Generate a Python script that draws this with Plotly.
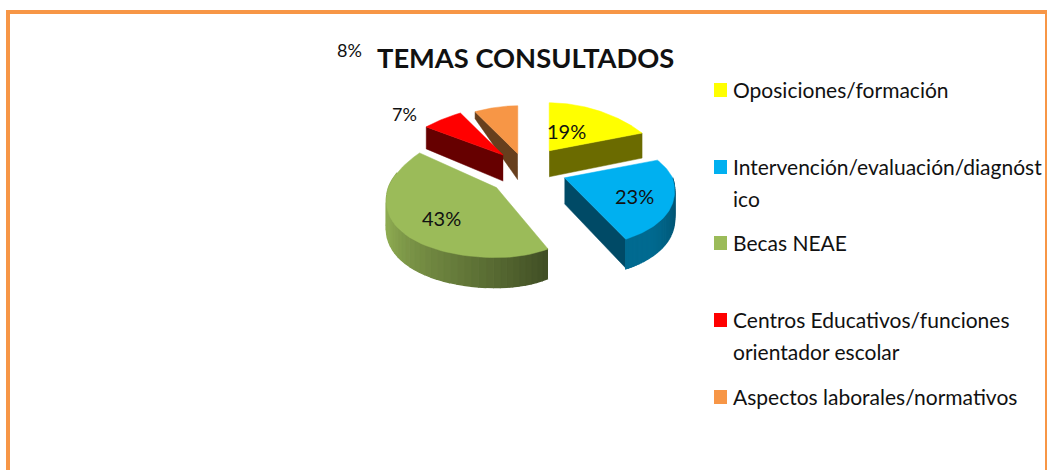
import numpy as np
import plotly.graph_objects as go

categories = ["Oposiciones/formación", "Intervención/evaluación/diagnóstico", "Becas NEAE",
              "Centros Educativos/funciones orientador escolar", "Aspectos laborales/normativos"]
values = [19, 23, 43, 7, 8]
pct_labels = ["19%", "23%", "43%", "7%", "8%"]
legend_lines = [["Oposiciones/formación"], ["Intervención/evaluación/diagnóst", "ico"], ["Becas NEAE"],
                ["Centros Educativos/funciones", "orientador escolar"], ["Aspectos laborales/normativos"]]
title = "TEMAS CONSULTADOS"

# styles
top_colors = ["#FFFF00", "#00B0F0", "#9BBB59", "#FF0000", "#F79646"]
cut_colors = ["#6B6B00", "#004A66", "#414F25", "#660000", "#673F1D"]
arc_light = ["#6B6B00", "#006A90", "#8EAB52", "#660000", "#673F1D"]
explode = [43, 42, 38, 33, 29]
cut_depth = [25, 29, 29, 22, 7]
ry_back = [48, 48, 59, 48, 48]
right_scale = [1, 1, 0.84, 1, 1]
CX, CY = 525, 165
R, S, RY_FRONT = 108, 22, 70
BORDER = "#F79646"
TEXT = "#111111"


def hex2rgb(h):
    return np.array([int(h[i:i + 2], 16) for i in (1, 3, 5)], float)


def mix(a, b, t):
    c = hex2rgb(a) * (1 - t) + hex2rgb(b) * t
    return "rgb(%d,%d,%d)" % tuple(c)


def rim(i, tip, theta):
    dx = np.sin(theta) * (R + S * -np.cos(theta))
    dx = dx * np.where(np.sin(theta) > 0, right_scale[i], 1)
    dy = -np.cos(theta) * np.where(np.cos(theta) > 0, ry_back[i], RY_FRONT)
    return tip[0] + dx, tip[1] + dy


def depth(theta):
    return 27 + 3 * -np.cos(theta)


total = sum(values)
edges = np.deg2rad(np.cumsum([0] + values) / total * 360)
tips = []
for i in range(len(values)):
    mid = (edges[i] + edges[i + 1]) / 2
    k = 0.4 if np.cos(mid) > 0 else 0.9
    tips.append((CX + explode[i] * np.sin(mid), CY - explode[i] * np.cos(mid) * k))

fig = go.Figure()


def poly(xs, ys, color, name=None, width=0.5):
    fig.add_trace(go.Scatter(x=list(xs), y=list(ys), mode="lines", fill="toself", fillcolor=color,
                             line=dict(color=color, width=width), hoverinfo="skip",
                             name=name or "", showlegend=False))


order = [4, 3, 0, 2, 1]
for i in order:
    a, b = edges[i], edges[i + 1]
    tip = tips[i]
    # cut faces that look toward the viewer
    for th in (a, b):
        visible = (i == 0 and th == b) or (i == 1 and th == b) or (i in (3, 4) and th == a)
        if visible:
            x1, y1 = rim(i, tip, th)
            poly([tip[0], x1, x1, tip[0]],
                 [tip[1], y1, y1 + cut_depth[i], tip[1] + 26], cut_colors[i])
    # outer wall, shaded in strips
    lo, hi = max(a, np.pi / 2), min(b, 3 * np.pi / 2 + 0.25)
    if hi > lo:
        steps = np.linspace(lo, hi, 41)
        for s0, s1 in zip(steps[:-1], steps[1:]):
            t = (s0 - lo) / (hi - lo)
            x0, y0 = rim(i, tip, s0)
            x1, y1 = rim(i, tip, s1)
            poly([x0, x1, x1, x0], [y0, y1, y1 + depth(s1), y0 + depth(s0)],
                 mix(cut_colors[i], arc_light[i], min(1, t * 1.4)), width=1.5)
    # top surface
    th = np.linspace(a, b, 60)
    xr, yr = rim(i, tip, th)
    poly([tip[0], *xr, tip[0]], [tip[1], *yr, tip[1]], top_colors[i], categories[i])

ann = [
    (title, 525.5, 57, 27.3, True, "center"),
    (pct_labels[0], 566, 131, 20, False, "center"),
    (pct_labels[1], 634, 196, 20, False, "center"),
    (pct_labels[2], 441, 218, 20, False, "center"),
    (pct_labels[3], 404, 114, 18, False, "center"),
    (pct_labels[4], 349, 50, 18, False, "center"),
]
annotations = [dict(x=x, y=y, text=f"<b>{t}</b>" if bold else t, showarrow=False, xanchor=anc, yanchor="middle",
                    font=dict(family="Lato", size=size, color=TEXT))
               for t, x, y, size, bold, anc in ann]

legend_y = [[89], [166, 198], [242], [319, 351], [396]]
key_y = [90, 167, 243, 320, 397]
shapes = []
for i, lines in enumerate(legend_lines):
    for line, y in zip(lines, legend_y[i]):
        annotations.append(dict(x=731, y=y, text=line, showarrow=False, xanchor="left", yanchor="middle",
                                font=dict(family="Lato", size=21, color=TEXT)))
    shapes.append(dict(type="rect", x0=714, x1=727, y0=key_y[i] - 7, y1=key_y[i] + 7,
                       fillcolor=top_colors[i], line=dict(width=0), layer="above"))

for x0, y0, x1, y1 in [(6, 10, 1047, 14), (6, 10, 10, 470), (1045, 10, 1047, 470)]:
    shapes.append(dict(type="rect", x0=x0, y0=y0, x1=x1, y1=y1, fillcolor=BORDER, line=dict(width=0), layer="above"))

fig.update_layout(width=1047, height=470, margin=dict(l=0, r=0, t=0, b=0),
                  paper_bgcolor="white", plot_bgcolor="white", showlegend=False,
                  xaxis=dict(range=[0, 1047], visible=False, fixedrange=True),
                  yaxis=dict(range=[470, 0], visible=False, fixedrange=True),
                  annotations=annotations, shapes=shapes)
fig.write_html("out.html", config=dict(displayModeBar=False),
               post_script="document.body.style.margin='0';document.body.style.overflow='hidden';")
